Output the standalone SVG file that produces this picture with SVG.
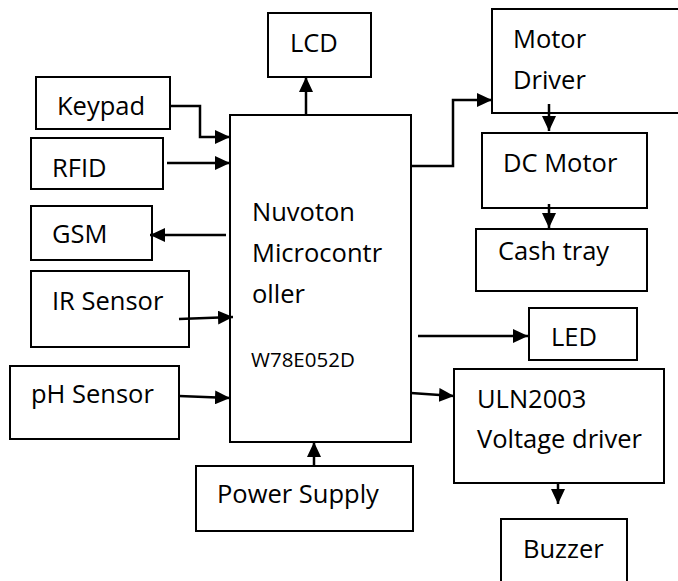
<svg xmlns="http://www.w3.org/2000/svg" width="678" height="581" viewBox="0 0 678 581">
<style>
.box{fill:#fff;stroke:#000;stroke-width:2}
.t{font-family:"Open Sans","Liberation Sans",Arial,sans-serif;font-size:25.5px;fill:#000}
.s{font-size:20.5px}
.c{fill:none;stroke:#000;stroke-width:2.5;marker-end:url(#ah)}
</style>
<defs>
<marker id="ah" viewBox="0 0 15 14" refX="15" refY="7" markerWidth="15" markerHeight="14" markerUnits="userSpaceOnUse" orient="auto">
<path d="M0,0 L15,7 L0,14 z" fill="#000"/>
</marker>
</defs>
<rect width="678" height="581" fill="#fff"/>
<g id="lcd"><rect class="box" x="268" y="13" width="103" height="64"/><text class="t" x="290" y="52">LCD</text></g>
<g id="keypad"><rect class="box" x="36" y="77" width="134" height="52"/><text class="t" x="57" y="115">Keypad</text></g>
<g id="rfid"><rect class="box" x="31" y="138" width="132" height="51"/><text class="t" x="52" y="177">RFID</text></g>
<g id="gsm"><rect class="box" x="31" y="206" width="121" height="54"/><text class="t" x="52" y="243">GSM</text></g>
<g id="ir"><rect class="box" x="31" y="271" width="158" height="76"/><text class="t" x="52" y="310">IR Sensor</text></g>
<g id="ph"><rect class="box" x="10" y="366" width="169" height="73"/><text class="t" x="31" y="403">pH Sensor</text></g>
<g id="mcu"><rect class="box" x="230" y="115" width="181" height="327"/>
<text class="t" x="252" y="221">Nuvoton</text>
<text class="t" x="252" y="262">Microcontr</text>
<text class="t" x="252" y="303">oller</text>
<text class="t s" x="251" y="367">W78E052D</text></g>
<g id="power"><rect class="box" x="196" y="466" width="217" height="65"/><text class="t" x="217" y="503">Power Supply</text></g>
<g id="motordriver"><rect class="box" x="492" y="9" width="200" height="104"/><text class="t" x="513" y="48">Motor</text><text class="t" x="513" y="89">Driver</text></g>
<g id="dcmotor"><rect class="box" x="482" y="133" width="165" height="75"/><text class="t" x="503" y="172">DC Motor</text></g>
<g id="cashtray"><rect class="box" x="476" y="229" width="171" height="62"/><text class="t" x="498" y="260">Cash tray</text></g>
<g id="led"><rect class="box" x="529" y="308" width="108" height="52"/><text class="t" x="551" y="346">LED</text></g>
<g id="uln"><rect class="box" x="454" y="369" width="210" height="114"/><text class="t" x="477" y="408">ULN2003</text><text class="t" x="477" y="448">Voltage driver</text></g>
<g id="buzzer"><rect class="box" x="501" y="519" width="126" height="90"/><text class="t" x="523" y="558">Buzzer</text></g>
<g id="connectors">
<polyline class="c" points="170,106 200,106 200,137 230,137"/>
<line class="c" x1="167" y1="163" x2="230" y2="163"/>
<line class="c" x1="226" y1="235" x2="150" y2="235"/>
<line class="c" x1="179" y1="319" x2="233" y2="317"/>
<line class="c" x1="179" y1="396" x2="230" y2="398"/>
<line class="c" x1="314" y1="466" x2="314" y2="442"/>
<line class="c" x1="306" y1="115" x2="306" y2="77"/>
<polyline class="c" points="411,166 453,166 453,100 492,100"/>
<line class="c" x1="549" y1="104" x2="549" y2="131"/>
<line class="c" x1="549" y1="204" x2="549" y2="228"/>
<line class="c" x1="418" y1="336" x2="528" y2="336"/>
<line class="c" x1="411" y1="393" x2="454" y2="396"/>
<line class="c" x1="558" y1="483" x2="558" y2="504"/>
</g>
</svg>
